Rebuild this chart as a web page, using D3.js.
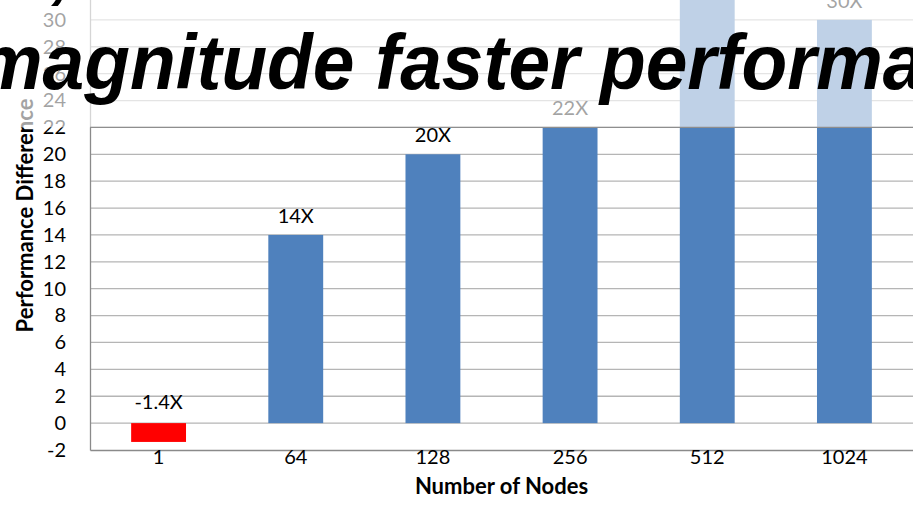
<!DOCTYPE html>
<html>
<head>
<meta charset="utf-8">
<script src="https://cdn.jsdelivr.net/npm/d3@7"></script>
<style>
  html, body { margin: 0; padding: 0; background: #fff; overflow: hidden; }
  svg { display: block; }
</style>
</head>
<body>
<svg id="chart" width="913" height="505"></svg>
<script>
// Performance difference by cluster size
const nodes = ["1", "64", "128", "256", "512", "1024"];
const speedup = [-1.4, 14, 20, 22, 36, 30];
const valueLabels = ["-1.4X", "14X", "20X", "22X", "36X", "30X"];
const yTicks = [-2, 0, 2, 4, 6, 8, 10, 12, 14, 16, 18, 20, 22, 24, 26, 28, 30];
const yTitle = "Performance Difference";
const xTitle = "Number of Nodes";
const headlineAbove = ["y", ","];
const headline = "magnitude faster performance";

const W = 913, H = 505;
const svg = d3.select("#chart");
const FONT = "Lato, 'Open Sans', sans-serif";

const plot = { left: 90, right: 913, top: -7, bottom: 450 };

const x = d3.scaleBand()
  .domain(nodes)
  .range([plot.left, plot.right])
  .paddingInner(0.6)
  .paddingOuter(0.3);

const y = d3.scaleLinear()
  .domain([-2, 32])
  .range([plot.bottom, plot.top]);

// Horizontal gridlines
svg.append("g")
  .selectAll("line")
  .data(yTicks.filter(t => t !== -2))
  .join("line")
  .attr("x1", plot.left).attr("x2", plot.right)
  .attr("y1", d => y(d)).attr("y2", d => y(d))
  .attr("stroke", "#b5b5b5").attr("stroke-width", 1.3);

// Y axis
const yAxis = svg.append("g")
  .attr("transform", `translate(${plot.left},0)`)
  .call(d3.axisLeft(y).tickValues(yTicks).tickSize(0).tickPadding(24).tickFormat(d => String(d)));
yAxis.select(".domain").attr("stroke", "#8a8a8a").attr("stroke-width", 1.3);
yAxis.selectAll("text")
  .attr("font-family", FONT).attr("font-size", 20).attr("fill", "#000");

// X axis at the bottom of the plot
const xAxis = svg.append("g")
  .attr("transform", `translate(0,${plot.bottom})`)
  .call(d3.axisBottom(x).tickSize(0).tickPadding(0));
xAxis.select(".domain").attr("stroke", "#8a8a8a").attr("stroke-width", 1.3);
xAxis.selectAll("text")
  .attr("font-family", FONT).attr("font-size", 20).attr("fill", "#000");

// Bars
const rows = nodes.map((n, i) => ({ n, v: speedup[i], label: valueLabels[i] }));
svg.append("g")
  .selectAll("rect")
  .data(rows)
  .join("rect")
  .attr("x", d => x(d.n))
  .attr("width", x.bandwidth())
  .attr("y", d => y(Math.max(d.v, 0)))
  .attr("height", d => Math.abs(y(d.v) - y(0)))
  .attr("fill", d => d.v < 0 ? "#ff0000" : "#4f81bd");

// Value labels
svg.append("g")
  .selectAll("text")
  .data(rows)
  .join("text")
  .attr("x", d => x(d.n) + x.bandwidth() / 2)
  .attr("y", d => y(Math.max(d.v, 0)) - (d.v < 0 ? 14 : 12))
  .attr("text-anchor", "middle")
  .attr("font-family", FONT).attr("font-size", 20).attr("fill", "#000")
  .text(d => d.label);

// Axis titles
svg.append("text")
  .attr("transform", `translate(33,${(plot.top + plot.bottom) / 2 - 6}) rotate(-90)`)
  .attr("text-anchor", "middle")
  .attr("font-family", FONT).attr("font-size", 22).attr("font-weight", "bold").attr("fill", "#000")
  .text(yTitle);

svg.append("text")
  .attr("x", (plot.left + plot.right) / 2)
  .attr("y", 494)
  .attr("text-anchor", "middle")
  .attr("font-family", FONT).attr("font-size", 22).attr("font-weight", "bold").attr("fill", "#000")
  .text(xTitle);

// Upper part of the chart dimmed by a translucent white panel
svg.append("rect")
  .attr("x", 0).attr("y", 0)
  .attr("width", W).attr("height", y(22))
  .attr("fill", "#fff").attr("fill-opacity", 0.64);
svg.append("line")
  .attr("x1", plot.left).attr("x2", plot.right)
  .attr("y1", y(22)).attr("y2", y(22))
  .attr("stroke", "#8e8e8e").attr("stroke-width", 1.3);

// Slide headline over the chart (first line runs off the top edge)
const HEAD = "'Liberation Sans', Arial, sans-serif";
const headStyle = sel => sel
  .attr("font-family", HEAD).attr("font-size", 78)
  .attr("font-weight", "bold").attr("font-style", "italic").attr("fill", "#000");
const firstLine = svg.append("text")
  .attr("transform", "translate(0,-6) scale(0.96,1)")
  .call(headStyle);
firstLine.append("tspan").attr("x", -22).text(headlineAbove[0]);
firstLine.append("tspan").attr("x", 54).text(headlineAbove[1]);
svg.append("text")
  .attr("transform", "translate(-24,89) scale(0.96,1)")
  .call(headStyle)
  .text(headline);
</script>
</body>
</html>
